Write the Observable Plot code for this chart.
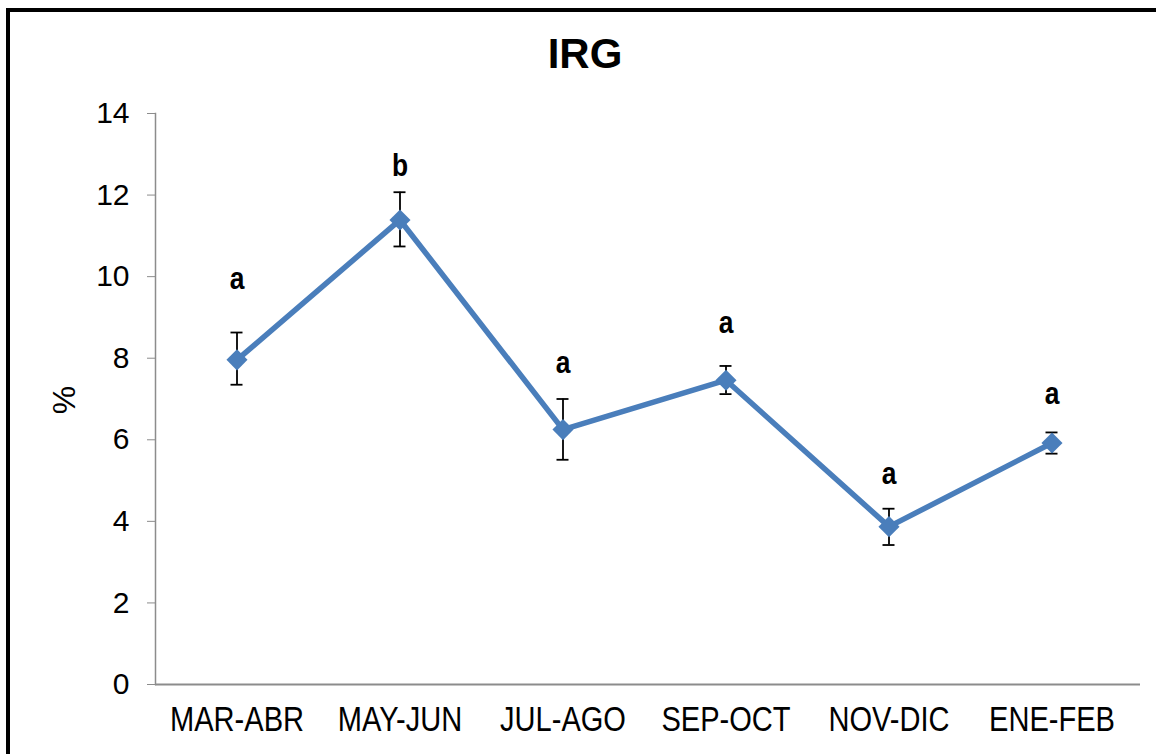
<!DOCTYPE html>
<html>
<head>
<meta charset="utf-8">
<script src="https://cdn.jsdelivr.net/npm/d3@7"></script>
<script src="https://cdn.jsdelivr.net/npm/@observablehq/plot@0.6"></script>
<style>
  html, body { margin: 0; padding: 0; background: #fff; }
  #wrap { position: relative; width: 1156px; height: 754px; overflow: hidden; font-family: "Liberation Sans", Arial, sans-serif; }
  #frame { position: absolute; left: 6px; top: 8px; width: 1170px; height: 780px; border: 4px solid #000; box-sizing: border-box; }
  #title { position: absolute; left: 0; width: 1170px; top: 30px; text-align: center; font-weight: bold; font-size: 42px; color: #000; }
  #ylabel { position: absolute; left: 64px; top: 400px; transform: translate(-50%, -50%) rotate(-90deg); font-size: 32px; color: #000; }
  #chart { position: absolute; left: 0; top: 0; }
</style>
</head>
<body>
<div id="wrap">
  <div id="frame"></div>
  <div id="chart"></div>
  <div id="title">IRG</div>
  <div id="ylabel">%</div>
</div>
<script>
const periods = ["MAR-ABR", "MAY-JUN", "JUL-AGO", "SEP-OCT", "NOV-DIC", "ENE-FEB"];
const values  = [7.96, 11.39, 6.25, 7.46, 3.87, 5.92];
const upper   = [8.63, 12.07, 7.00, 7.81, 4.31, 6.18];
const lower   = [7.35, 10.74, 5.51, 7.12, 3.42, 5.66];
const letters = ["a", "b", "a", "a", "a", "a"];
const letterAt = [9.95, 12.72, 7.89, 8.85, 5.17, 7.11];
const yTicks = [0, 2, 4, 6, 8, 10, 12, 14];

const data = periods.map((p, i) => ({
  period: p, value: values[i], hi: upper[i], lo: lower[i], letter: letters[i], ly: letterAt[i]
}));

const blue = "#4a7ebb";

const chart = Plot.plot({
  width: 1156,
  height: 754,
  marginLeft: 155,
  marginRight: 23,
  marginTop: 113,
  marginBottom: 70,
  style: { fontFamily: "'Liberation Sans', Arial, sans-serif", background: "transparent", overflow: "visible" },
  x: { type: "band", domain: periods, padding: 0, label: null },
  y: { domain: [0, 14], label: null },
  marks: [
    Plot.frame({ anchor: "left", stroke: "#8c8c8c", strokeWidth: 1.5 }),
    Plot.ruleY([0], { stroke: "#8c8c8c", strokeWidth: 2, insetRight: -7 }),
    Plot.axisY({ ticks: yTicks, tickSize: 8, tickPadding: 18, stroke: "#8c8c8c", fill: "#000", fontSize: 30, tickFormat: d => d, label: null }),
    Plot.axisX({ tickSize: 0, tickPadding: 22, fill: "#000", fontSize: 35, label: null, className: "xlab" }),
    Plot.ruleX(data, { x: "period", y1: "lo", y2: "hi", stroke: "#000", strokeWidth: 1.8 }),
    Plot.tickY(data, { x: "period", y: "hi", stroke: "#000", strokeWidth: 1.8, insetLeft: 75.5, insetRight: 75.5 }),
    Plot.tickY(data, { x: "period", y: "lo", stroke: "#000", strokeWidth: 1.8, insetLeft: 75.5, insetRight: 75.5 }),
    Plot.line(data, { x: "period", y: "value", stroke: blue, strokeWidth: 5.5 }),
    Plot.dot(data, { x: "period", y: "value", symbol: "diamond2", r: 9.5, fill: blue, stroke: "none" }),
    Plot.text(data, { x: "period", y: "ly", text: "letter", fontSize: 31, fontWeight: "bold", fill: "#000", className: "letters" })
  ]
});
document.getElementById("chart").appendChild(chart);

// condense the category labels and letters (narrow face look)
function condense(selector, factor) {
  chart.querySelectorAll(selector).forEach(t => {
    const w = t.getComputedTextLength();
    if (w > 0) {
      t.setAttribute("textLength", (w * factor).toFixed(1));
      t.setAttribute("lengthAdjust", "spacingAndGlyphs");
    }
  });
}
condense('[aria-label="x-axis tick label"] text', 0.83);
condense('[aria-label="text"] text', 0.85);
</script>
</body>
</html>
